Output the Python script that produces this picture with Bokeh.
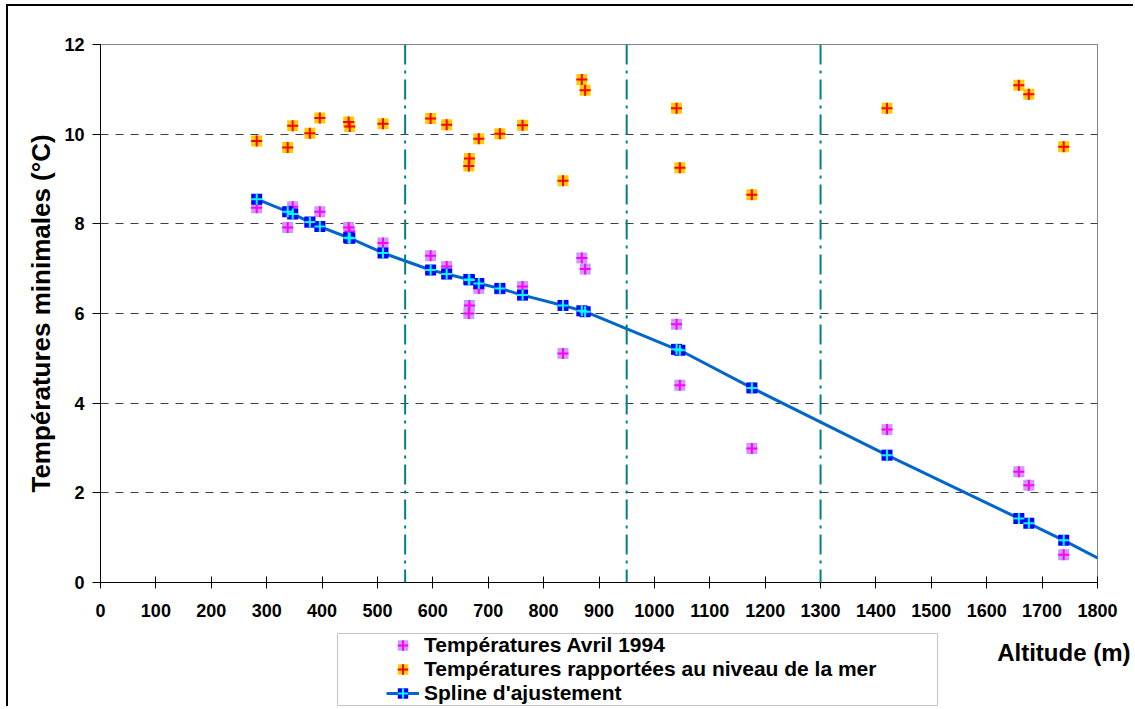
from bokeh.plotting import figure
from bokeh.models import (Legend, LegendItem, Label, Span, FixedTicker,
                          BoxAnnotation, Range1d, ColumnDataSource)
from bokeh.embed import file_html
from bokeh.resources import INLINE

# ---------------- data ----------------
altitude = [282, 338, 347, 378, 396, 448, 450, 510, 596, 625, 665, 666, 683,
            721, 762, 835, 869, 875, 1040, 1046, 1176, 1420, 1658, 1676, 1739]
temp_avril_1994 = [8.36, 7.92, 8.38, 8.03, 8.27, 7.92, 7.83, 7.57, 7.29, 7.05,
                   6.00, 6.18, 6.56, 6.55, 6.60, 5.11, 7.24, 6.99, 5.76, 4.40,
                   2.99, 3.41, 2.47, 2.17, 0.62]
temp_niveau_mer = [9.85, 9.70, 10.19, 10.02, 10.36, 10.27, 10.17, 10.23, 10.35,
                   10.21, 9.29, 9.46, 9.90, 10.01, 10.20, 8.96, 11.22, 10.98,
                   10.58, 9.25, 8.65, 10.58, 11.09, 10.89, 9.72]
spline_points = [8.55, 8.27, 8.22, 8.04, 7.94, 7.69, 7.68, 7.35, 6.97, 6.88,
                 6.76, 6.75, 6.67, 6.56, 6.41, 6.18, 6.06, 6.04, 5.20, 5.18,
                 4.34, 2.84, 1.43, 1.32, 0.94]
# the spline curve continues to the right edge of the chart
spline_alt = altitude + [1800]
spline_temp = spline_points + [0.55]

zone_limits = [550, 950, 1300]
x_ticks = list(range(0, 1900, 100))
y_ticks = [0, 2, 4, 6, 8, 10, 12]

labels = ["Températures Avril 1994",
          "Températures rapportées au niveau de la mer",
          "Spline d'ajustement"]
y_title = "Températures minimales (°C)"
x_title = "Altitude (m)"

FONT = "Liberation Sans"
PINK = ("#CC99FF", "#FF00FF")
ORANGE = ("#FFCC00", "#FF0000")
BLUE = ("#0000FF", "#00FFFF")
LINE = "#0066CC"
W = 1125

# ---------------- main chart ----------------
p = figure(width=W, frame_width=997, frame_height=538,
           x_range=Range1d(0, 1800), y_range=Range1d(0, 12),
           output_backend="svg", toolbar_location=None,
           min_border_left=92, min_border_top=38,
           min_border_right=W - 92 - 997, min_border_bottom=44)
p.styles = {"border-left": "2px solid black",
            "border-top": "2px solid black",
            "margin-left": "6px", "margin-top": "4px"}
p.background_fill_color = "white"
p.border_fill_color = "white"
p.outline_line_color = "#808080"
p.outline_line_width = 1

p.xaxis.ticker = FixedTicker(ticks=x_ticks)
p.yaxis.ticker = FixedTicker(ticks=y_ticks)
for ax in (p.xaxis[0], p.yaxis[0]):
    ax.axis_line_color = "black"
    ax.axis_line_width = 1
    ax.major_tick_line_color = "black"
    ax.minor_tick_line_color = None
    ax.major_label_text_font = FONT
    ax.major_label_text_font_style = "bold"
    ax.major_label_text_font_size = "18px"
    ax.major_label_text_color = "black"
p.xaxis.major_tick_in = 6
p.xaxis.major_tick_out = 6
p.xaxis.major_label_standoff = 15
p.yaxis.major_tick_in = 0
p.yaxis.major_tick_out = 8
p.yaxis.major_label_standoff = 8
p.yaxis.axis_label = y_title
p.yaxis.axis_label_text_font = FONT
p.yaxis.axis_label_text_font_style = "bold"
p.yaxis.axis_label_text_font_size = "26px"
p.yaxis.axis_label_text_color = "black"
p.yaxis.axis_label_standoff = 5

p.xgrid.grid_line_color = None
p.ygrid.ticker = FixedTicker(ticks=y_ticks[1:-1])
p.ygrid.grid_line_color = "#404040"
p.ygrid.grid_line_width = 1
p.ygrid.grid_line_dash = "8 7"

for z in zone_limits:
    p.add_layout(Span(location=z, dimension="height", line_color="#008080",
                      line_width=2, line_dash="20 6 3 6"))

src = ColumnDataSource(dict(alt=altitude, avril=temp_avril_1994,
                            mer=temp_niveau_mer, spl=spline_points))
line_src = ColumnDataSource(dict(alt=spline_alt, t=spline_temp))


def cross_markers(fig, source, y, colors):
    sq = fig.scatter("alt", y, source=source, marker="square", size=11,
                     fill_color=colors[0], line_color=None)
    cr = fig.scatter("alt", y, source=source, marker="cross", size=11,
                     line_color=colors[1], line_width=2)
    return [sq, cr]


cross_markers(p, src, "avril", PINK)
cross_markers(p, src, "mer", ORANGE)
p.line("alt", "t", source=line_src, line_color=LINE, line_width=3)
cross_markers(p, src, "spl", BLUE)

# ---------------- legend strip (separate root, below the chart) ----------------
LH = 80
lf = figure(width=W, height=LH, x_range=Range1d(0, W), y_range=Range1d(LH, 0),
            output_backend="svg", toolbar_location=None,
            x_axis_type=None, y_axis_type=None,
            min_border=0, min_border_left=0, min_border_right=0,
            min_border_top=0, min_border_bottom=0)
lf.styles = {"border-left": "2px solid black", "margin-left": "6px"}
lf.outline_line_color = None
lf.xgrid.grid_line_color = None
lf.ygrid.grid_line_color = None
lf.background_fill_color = "white"
lf.border_fill_color = "white"

# legend swatches only: one sample placed outside the visible strip
swatch = ColumnDataSource(dict(alt=[-100], avril=[-100], mer=[-100], spl=[-100]))
swatch_line = ColumnDataSource(dict(alt=[-100, -90], t=[-100, -100]))
r_pink = cross_markers(lf, swatch, "avril", PINK)
r_orange = cross_markers(lf, swatch, "mer", ORANGE)
r_line = lf.line("alt", "t", source=swatch_line, line_color=LINE, line_width=3)
r_blue = cross_markers(lf, swatch, "spl", BLUE)

lf.add_layout(BoxAnnotation(left=329, right=929, top=7, bottom=79,
                            fill_alpha=0, line_color="#404040", line_width=1))

GH = 26
entries = [(labels[0], r_pink), (labels[1], r_orange), (labels[2], [r_line] + r_blue)]
row_centers = [19, 43, 67]
for (lab, rends), c in zip(entries, row_centers):
    lf.add_layout(Legend(items=[LegendItem(label=lab, renderers=rends)],
                         location=(378, round(LH - GH - (c - GH / 2))),
                         orientation="vertical", padding=0, margin=0, spacing=0,
                         glyph_height=GH, glyph_width=33, label_height=18,
                         label_standoff=5,
                         label_text_font=FONT, label_text_font_style="bold",
                         label_text_font_size="21px", label_text_color="black",
                         border_line_alpha=0, background_fill_alpha=0))

lf.add_layout(Label(x=1122, y=26, text=x_title, text_align="right",
                    text_baseline="middle", text_font=FONT,
                    text_font_style="bold", text_font_size="24px",
                    text_color="black"))

open("out.html", "w").write(file_html([p, lf], INLINE))
